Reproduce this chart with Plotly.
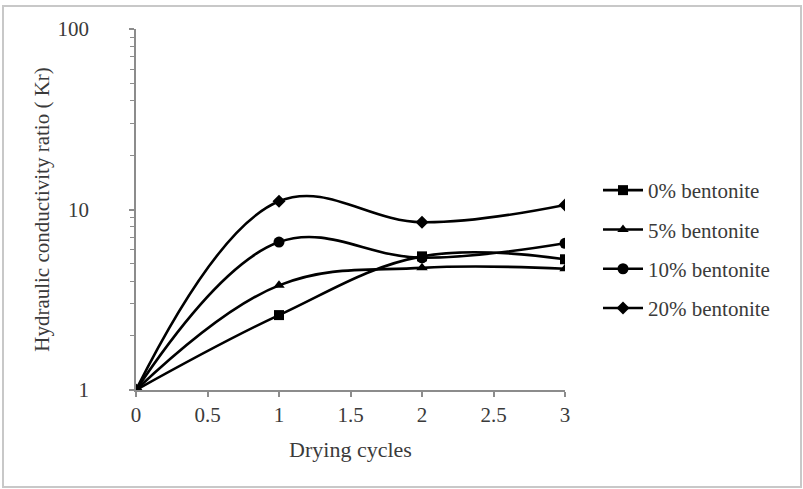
import plotly.graph_objects as go

cycles = [0, 1, 2, 3]
series_names = ["0% bentonite", "5% bentonite", "10% bentonite", "20% bentonite"]
kr_0 = [1, 2.6, 5.5, 5.3]
kr_5 = [1, 3.8, 4.75, 4.7]
kr_10 = [1, 6.6, 5.4, 6.5]
kr_20 = [1, 11.1, 8.5, 10.6]
x_ticks = [0, 0.5, 1, 1.5, 2, 2.5, 3]
x_tick_labels = ["0", "0.5", "1", "1.5", "2", "2.5", "3"]
y_ticks = [1, 10, 100]
y_tick_labels = ["1", "10", "100"]

symbols = ["square", "triangle-up", "circle", "diamond"]
sizes = [10, 10, 11, 10]
series = [kr_0, kr_5, kr_10, kr_20]

W, H = 803, 489
L, R, T, B = 136, 565, 29, 390

fig = go.Figure()
for name, vals, sym, sz in zip(series_names, series, symbols, sizes):
    fig.add_trace(go.Scatter(
        x=cycles, y=vals, name=name, mode="lines+markers",
        line=dict(color="black", width=2.6, shape="spline", smoothing=1.1),
        marker=dict(symbol=sym, size=sz, color="black"),
        legendgroup=name,
    ))

font_family = "Liberation Serif"
axis_col = "#8c8c8c"
text_col = "#3a3a3a"

pw = R - L
ph = B - T
def px_x(v):
    return (v - L) / pw
def px_y(v):
    return (B - v) / ph

fig.update_layout(
    width=W, height=H,
    margin=dict(l=L, r=W - R, t=T, b=H - B, pad=0),
    paper_bgcolor="white", plot_bgcolor="white",
    font=dict(family=font_family, size=21, color=text_col),
    showlegend=True,
    legend=dict(
        x=px_x(598), y=px_y(170), xanchor="left", yanchor="top",
        font=dict(size=21, color=text_col, family=font_family),
        tracegroupgap=9, itemwidth=40,
        bgcolor="rgba(0,0,0,0)",
    ),
    xaxis=dict(
        range=[0, 3], tickvals=x_ticks, ticktext=x_tick_labels,
        showgrid=False, zeroline=False,
        showline=True, linecolor=axis_col, linewidth=1.5,
        ticks="outside", ticklen=5, tickcolor=axis_col, tickwidth=1.5,
        tickfont=dict(size=21, color=text_col, family=font_family),
        title=dict(text="Drying cycles", font=dict(size=22, color=text_col, family=font_family), standoff=16),
    ),
    yaxis=dict(
        type="log", range=[0, 2], tickvals=y_ticks, ticktext=y_tick_labels,
        showgrid=False, zeroline=False,
        showline=True, linecolor=axis_col, linewidth=1.5,
        ticks="outside", ticklen=5, tickcolor=axis_col, tickwidth=1.5,
        ticklabelstandoff=36,
        tickfont=dict(size=21, color=text_col, family=font_family),
        minor=dict(ticks="outside", ticklen=4, tickcolor=axis_col, tickwidth=1.2, dtick="D1", showgrid=False),
        title=dict(text="Hydraulic conductivity ratio ( Kr)", font=dict(size=21, color=text_col, family=font_family), standoff=2),
    ),
    shapes=[dict(
        type="rect", xref="paper", yref="paper",
        x0=px_x(3), x1=px_x(801), y0=px_y(487), y1=px_y(6),
        line=dict(color="#c8c8c8", width=2), fillcolor="rgba(0,0,0,0)", layer="below",
    )],
)

fig.write_html("out.html")
